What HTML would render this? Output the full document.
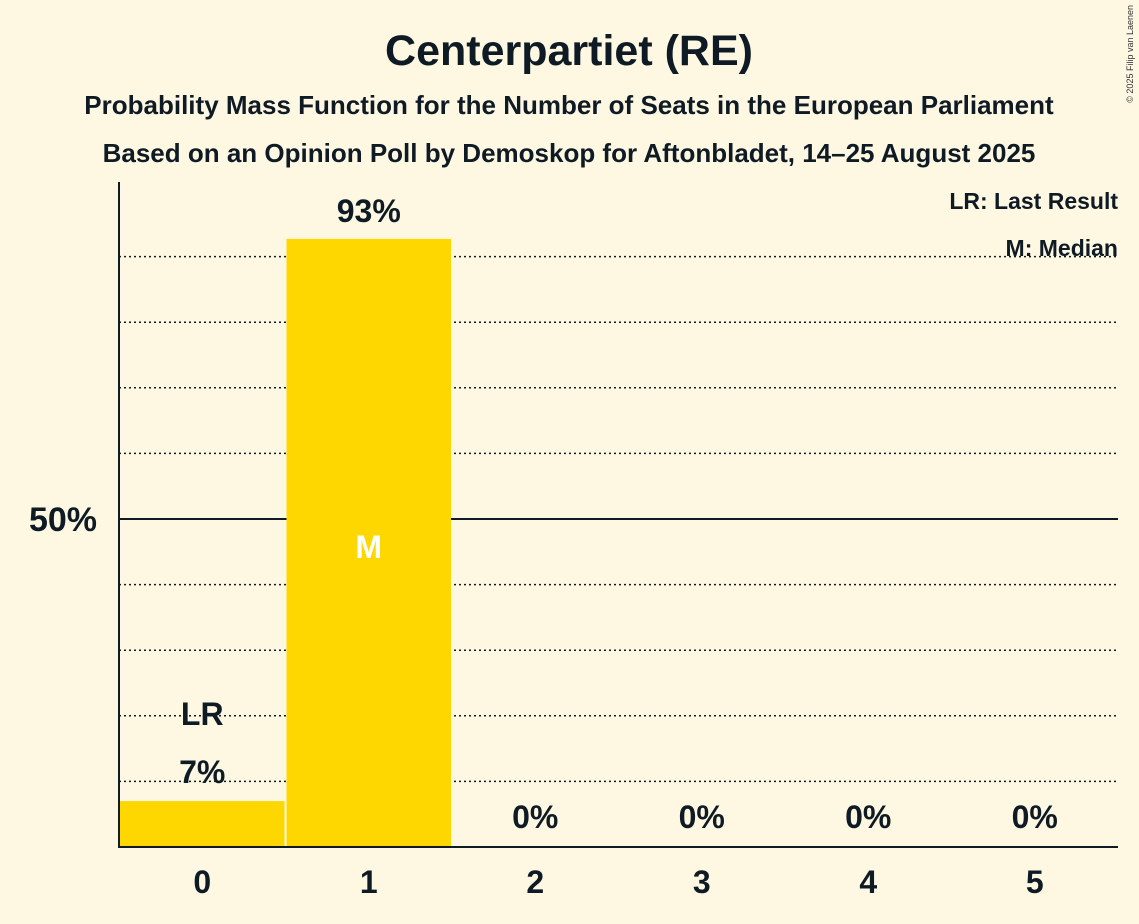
<!DOCTYPE html>
<html><head><meta charset="utf-8"><style>
body{margin:0;background:#fef8e3;}
svg{display:block;font-family:"Liberation Sans",sans-serif;}
</style></head><body>
<svg id="c" width="1139" height="924">
<rect width="1139" height="924" fill="#fef8e3"/>
<text x="569" y="65" text-anchor="middle" font-size="43" font-weight="bold" fill="#0f1b24">Centerpartiet (RE)</text>
<text x="569" y="114" text-anchor="middle" font-size="26" font-weight="bold" fill="#0f1b24">Probability Mass Function for the Number of Seats in the European Parliament</text>
<text x="569" y="162" text-anchor="middle" font-size="26" font-weight="bold" fill="#0f1b24">Based on an Opinion Poll by Demoskop for Aftonbladet, 14–25 August 2025</text>
<text x="1133" y="5" transform="rotate(-90 1133 5)" text-anchor="end" font-size="9" fill="#333">© 2025 Filip van Laenen</text>
<g id="grid"></g>
<g id="bars"></g>
<text x="1118" y="209" text-anchor="end" font-size="23" font-weight="bold" fill="#0f1b24">LR: Last Result</text>
<text x="1118" y="256" text-anchor="end" font-size="23" font-weight="bold" fill="#0f1b24">M: Median</text>
</svg>
<script>
const categories=["0","1","2","3","4","5"];
const values=[7,92.7,0,0,0,0];
const valueLabels=["7%","93%","0%","0%","0%","0%"];
const lastResultIndex=0;
const medianIndex=1;
const ns="http://www.w3.org/2000/svg";
const x0=119,x1=1118,y0=847,yTop=191;
const bw=(x1-x0)/categories.length;
const y=v=>y0-(y0-yTop)*v/100;
const xs=i=>x0+i*bw;
function mk(t,a,p){const e=document.createElementNS(ns,t);for(const k in a)e.setAttribute(k,a[k]);p.appendChild(e);return e;}
const g=document.getElementById('grid'),b=document.getElementById('bars');
for(let v=10;v<=90;v+=10){
 const l=mk('line',{x1:x0,x2:x1,y1:y(v),y2:y(v),stroke:'#0f1b24','stroke-width':v==50?2:1.5,'stroke-dasharray':v==50?'':'2,3'},g);
 
 
}
const yl=mk('text',{x:97,y:y(50)+12,'text-anchor':'end','font-size':34,'font-weight':'bold',fill:'#0f1b24'},g);
yl.textContent='50%';


categories.forEach((c,i)=>{
 const v=values[i];
 if(v>0){
  const r=mk('rect',{x:xs(i)+1,y:y(v),width:bw-2,height:y0-y(v),fill:'#ffd700'},b);
  
  
 }
 const cx=xs(i)+bw/2;
 const big=v>20;
 const t=mk('text',{x:cx,y:big?y(v)-17:(v>0?y(v)-18:y0-19),'text-anchor':'middle','font-size':32,'font-weight':'bold',fill:'#0f1b24'},b);
 t.textContent=valueLabels[i];
 
 
 if(i===lastResultIndex){
  const lr=mk('text',{x:cx,y:y(v)-76,'text-anchor':'middle','font-size':32,'font-weight':'bold',fill:'#0f1b24'},b);
  lr.textContent='LR';
  
  
 }
 if(i===medianIndex){
  const m=mk('text',{x:cx,y:y(50)+39,'text-anchor':'middle','font-size':32,'font-weight':'bold',fill:'#fff'},b);
  m.textContent='M';
  
  
 }
 const xl=mk('text',{x:cx,y:y0+46,'text-anchor':'middle','font-size':32,'font-weight':'bold',fill:'#0f1b24'},b);
 xl.textContent=c;
 
 
});
const ax=mk('line',{x1:x0,x2:x0,y1:182,y2:y0+1,stroke:'#0f1b24','stroke-width':2},b);


const bx=mk('line',{x1:x0,x2:x1,y1:y0,y2:y0,stroke:'#0f1b24','stroke-width':2},b);


</script>
</body></html>
